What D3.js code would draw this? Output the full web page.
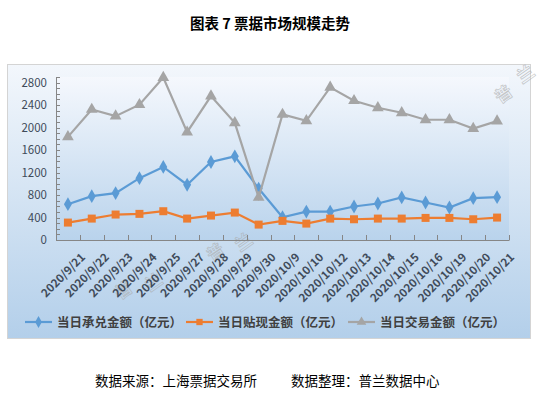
<!DOCTYPE html>
<html>
<head>
<meta charset="utf-8">
<script src="https://cdn.jsdelivr.net/npm/d3@7"></script>
<style>
  body { margin: 0; background: #fff; }
  text { font-family: "Microsoft YaHei", "Noto Sans CJK SC", sans-serif; }
</style>
</head>
<body>
<div id="chart"></div>
<script>
const WIDTH = 538;
const HEIGHT = 393;

// data
const dates = ['2020/9/21', '2020/9/22', '2020/9/23', '2020/9/24', '2020/9/25', '2020/9/27',
    '2020/9/28', '2020/9/29', '2020/9/30', '2020/10/9', '2020/10/10', '2020/10/12',
    '2020/10/13', '2020/10/14', '2020/10/15', '2020/10/16', '2020/10/19', '2020/10/20', '2020/10/21'];
const acceptance = [637, 780, 834, 1100, 1300, 983, 1388, 1489, 915, 405, 506, 506, 596, 649, 757, 667, 578, 745, 762];
const discount = [310, 381, 453, 465, 512, 381, 435, 488, 274, 340, 292, 381, 369, 381, 381, 393, 393, 369, 399];
const trading = [1835, 2323, 2204, 2407, 2889, 1918, 2561, 2085, 757, 2234, 2121, 2716, 2478, 2353, 2264, 2139, 2139, 1984, 2115];
const seriesNames = ['当日承兑金额（亿元）', '当日贴现金额（亿元）', '当日交易金额（亿元）'];
const colors = ['#5b9bd5', '#ed7d31', '#a5a5a5'];
const yTicks = [0, 400, 800, 1200, 1600, 2000, 2400, 2800];

const svg = d3.select('#chart').append('svg')
    .attr('width', WIDTH)
    .attr('height', HEIGHT);

const defs = svg.append('defs');
const outerGrad = defs.append('linearGradient').attr('id', 'outerGrad')
    .attr('x1', 0).attr('y1', 0).attr('x2', 0).attr('y2', 1);
outerGrad.append('stop').attr('offset', '0%').attr('stop-color', '#f3f7fc');
outerGrad.append('stop').attr('offset', '100%').attr('stop-color', '#b3cfea');
const plotGrad = defs.append('linearGradient').attr('id', 'plotGrad')
    .attr('x1', 0).attr('y1', 0).attr('x2', 0).attr('y2', 1);
plotGrad.append('stop').attr('offset', '0%').attr('stop-color', '#f5f8fd');
plotGrad.append('stop').attr('offset', '100%').attr('stop-color', '#b9d3ec');

// title
svg.append('text')
    .attr('x', 270).attr('y', 29)
    .attr('text-anchor', 'middle')
    .attr('font-size', 14.5).attr('font-weight', 'bold')
    .attr('fill', '#000')
    .text('图表 7  票据市场规模走势');

// outer chart box
svg.append('rect')
    .attr('x', 7.5).attr('y', 64.5)
    .attr('width', 523).attr('height', 274)
    .attr('fill', 'url(#outerGrad)')
    .attr('stroke', '#d4d4d4');

const plot = { left: 56, right: 509, top: 77, bottom: 240 };

svg.append('rect')
    .attr('x', plot.left).attr('y', plot.top)
    .attr('width', plot.right - plot.left).attr('height', plot.bottom - plot.top)
    .attr('fill', 'url(#plotGrad)');

const x = d3.scaleBand().domain(dates).range([plot.left, plot.right]);
const y = d3.scaleLinear().domain([0, 2900]).range([plot.bottom, plot.top]);

// watermarks
const marks = [[120, 300, '普'], [150, 292, '兰'], [212, 262, '普'], [240, 252, '兰'], [500, 104, '普'], [522, 84, '兰']];
svg.append('g').selectAll('text').data(marks).enter().append('text')
    .attr('transform', d => `translate(${d[0]},${d[1]}) rotate(-35)`)
    .attr('font-size', 17).attr('font-weight', 'bold')
    .attr('fill', 'none').attr('stroke', '#aaa').attr('stroke-width', 0.6)
    .attr('opacity', 0.7)
    .text(d => d[2]);

// y axis
const yAxis = svg.append('g')
    .attr('transform', `translate(${plot.left},0)`)
    .call(d3.axisLeft(y).tickValues(yTicks).tickFormat(d3.format('d')).tickSize(0).tickPadding(9));
yAxis.select('.domain').attr('stroke', '#868686');
yAxis.selectAll('text')
    .attr('font-size', 11.5).attr('fill', '#404b5a')
    .attr('font-family', 'Calibri, "Liberation Sans", sans-serif');
// minor ticks on y
svg.append('g').selectAll('line')
    .data(d3.range(0, 2901, 100))
    .enter().append('line')
    .attr('x1', plot.left).attr('x2', plot.left + 4)
    .attr('y1', d => Math.round(y(d)) + 0.5).attr('y2', d => Math.round(y(d)) + 0.5)
    .attr('stroke', '#868686');

// x axis
const xAxis = svg.append('g')
    .attr('transform', `translate(0,${plot.bottom})`)
    .call(d3.axisBottom(x).tickSize(0).tickPadding(6));
xAxis.select('.domain').attr('stroke', '#868686');
xAxis.selectAll('text')
    .attr('font-size', 11.5).attr('font-weight', 'bold').attr('fill', '#404b5a')
    .attr('font-family', 'Calibri, "Liberation Sans", sans-serif')
    .attr('text-anchor', 'end')
    .attr('transform', 'translate(8,8) rotate(-45)');
// category divider ticks pointing up
svg.append('g').selectAll('line')
    .data(dates.concat(['end']))
    .enter().append('line')
    .attr('x1', (d, i) => Math.round(plot.left + i * x.step()) + 0.5)
    .attr('x2', (d, i) => Math.round(plot.left + i * x.step()) + 0.5)
    .attr('y1', plot.bottom).attr('y2', plot.bottom - 5)
    .attr('stroke', '#868686');

// series
const series = [acceptance, discount, trading];
const line = d3.line()
    .x((d, i) => x(dates[i]) + x.bandwidth() / 2)
    .y(d => y(d));
const symbols = [d3.symbolDiamond, d3.symbolSquare, d3.symbolTriangle];
const symbolSizes = [55, 64, 60];

series.forEach((s, k) => {
    svg.append('path')
        .datum(s)
        .attr('fill', 'none')
        .attr('stroke', colors[k])
        .attr('stroke-width', 2.2)
        .attr('d', line);
    svg.append('g').selectAll('path')
        .data(s)
        .enter().append('path')
        .attr('transform', (d, i) => `translate(${x(dates[i]) + x.bandwidth() / 2},${y(d)})`)
        .attr('d', d3.symbol().type(symbols[k]).size(symbolSizes[k]))
        .attr('fill', colors[k]);
});

// legend
const legendX = [25, 186, 348];
const legend = svg.append('g').selectAll('g')
    .data(seriesNames)
    .enter().append('g')
    .attr('transform', (d, i) => `translate(${legendX[i]},322)`);
legend.append('line')
    .attr('x1', 0).attr('x2', 27).attr('y1', 0).attr('y2', 0)
    .attr('stroke', (d, i) => colors[i]).attr('stroke-width', 2.2);
legend.append('path')
    .attr('transform', 'translate(13.5,0)')
    .attr('d', (d, i) => d3.symbol().type(symbols[i]).size(40)())
    .attr('fill', (d, i) => colors[i]);
legend.append('text')
    .attr('x', 32).attr('y', 5)
    .attr('font-size', 12.5).attr('font-weight', 'bold').attr('fill', '#404040')
    .text(d => d);

// footer
svg.append('text')
    .attr('x', 95).attr('y', 386)
    .attr('font-size', 13.5).attr('fill', '#000')
    .text('数据来源：上海票据交易所');
svg.append('text')
    .attr('x', 291).attr('y', 386)
    .attr('font-size', 13.5).attr('fill', '#000')
    .text('数据整理：普兰数据中心');
</script>
</body>
</html>
